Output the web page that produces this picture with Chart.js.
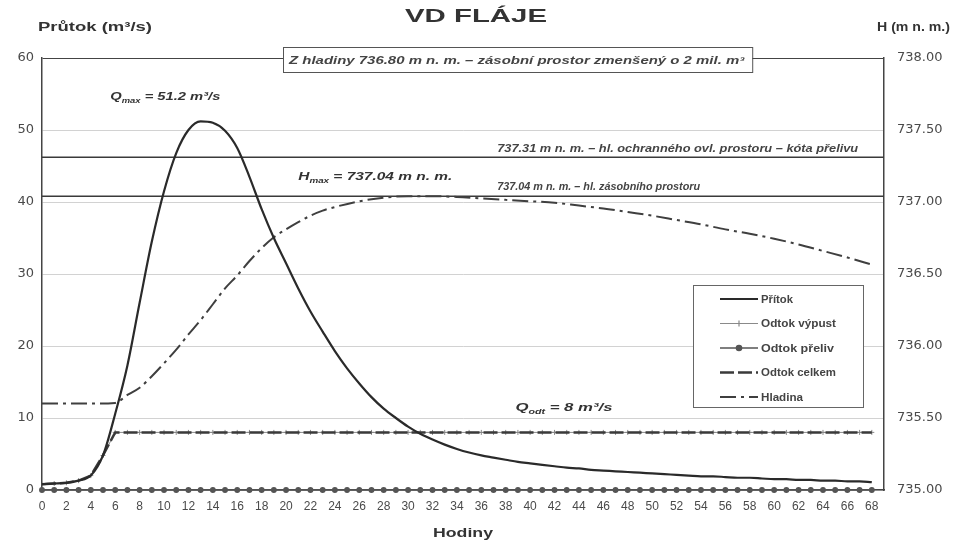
<!DOCTYPE html>
<html lang="cs">
<head>
    <meta charset="UTF-8">
    <meta name="viewport" content="width=device-width, initial-scale=1.0">
    <title>VD Fláje</title>
    <script src="https://cdn.jsdelivr.net/npm/chart.js@4"></script>
    <style>
        html, body { margin: 0; padding: 0; background: #fff; }
        #wrap { width: 953px; height: 544px; }
    </style>
</head>
<body>
    <div id="wrap"><canvas id="chart" width="953" height="544"></canvas></div>
    <script>
        // hodinove hodnoty prutoku (m3/s)
        const hodiny = [0, 1, 2, 3, 4, 5, 6, 7, 8, 9, 10, 11, 12, 13, 14, 15, 16, 17, 18, 19, 20,
            21, 22, 23, 24, 25, 26, 27, 28, 29, 30, 31, 32, 33, 34, 35, 36, 37, 38, 39, 40,
            41, 42, 43, 44, 45, 46, 47, 48, 49, 50, 51, 52, 53, 54, 55, 56, 57, 58, 59, 60,
            61, 62, 63, 64, 65, 66, 67, 68];
        const pritok = [0.8, 0.9, 1.0, 1.3, 2.0, 4.8, 10.6, 17.3, 26.0, 34.5, 41.5, 46.8, 50.0, 51.2, 51.0,
            49.9, 47.5, 43.5, 39.0, 35.0, 31.5, 28.0, 24.8, 22.0, 19.3, 16.9, 14.8, 12.9, 11.3, 10.0,
            8.8, 7.8, 7.0, 6.3, 5.7, 5.2, 4.8, 4.5, 4.2, 3.9, 3.7, 3.5, 3.3, 3.1, 3.0, 2.8, 2.7, 2.6,
            2.5, 2.4, 2.3, 2.2, 2.1, 2.0, 1.9, 1.9, 1.8, 1.7, 1.7, 1.6, 1.5, 1.5, 1.4, 1.4, 1.3, 1.3,
            1.2, 1.2, 1.1];
        const odtokVypust = [0.8, 0.9, 1.0, 1.3, 2.0, 4.8, 8, 8, 8, 8, 8, 8, 8, 8, 8, 8, 8, 8, 8, 8, 8,
            8, 8, 8, 8, 8, 8, 8, 8, 8, 8, 8, 8, 8, 8, 8, 8, 8, 8, 8, 8, 8, 8, 8, 8, 8, 8, 8, 8, 8, 8,
            8, 8, 8, 8, 8, 8, 8, 8, 8, 8, 8, 8, 8, 8, 8, 8, 8, 8];
        const odtokPreliv = [0, 0, 0, 0, 0, 0, 0, 0, 0, 0, 0, 0, 0, 0, 0, 0, 0, 0, 0, 0, 0, 0, 0, 0,
            0, 0, 0, 0, 0, 0, 0, 0, 0, 0, 0, 0, 0, 0, 0, 0, 0, 0, 0, 0, 0, 0, 0, 0, 0, 0, 0, 0, 0, 0,
            0, 0, 0, 0, 0, 0, 0, 0, 0, 0, 0, 0, 0, 0, 0];
        const odtokCelkem = [0.8, 0.9, 1.0, 1.3, 2.0, 4.8, 8, 8, 8, 8, 8, 8, 8, 8, 8, 8, 8, 8, 8, 8, 8,
            8, 8, 8, 8, 8, 8, 8, 8, 8, 8, 8, 8, 8, 8, 8, 8, 8, 8, 8, 8, 8, 8, 8, 8, 8, 8, 8, 8, 8, 8,
            8, 8, 8, 8, 8, 8, 8, 8, 8, 8, 8, 8, 8, 8, 8, 8, 8, 8];

        // hladina v nadrzi (m n. m.)
        const hladinaHodiny = [0, 2, 4, 6, 7, 8, 9, 10, 11, 12, 13, 14, 15, 16, 17, 18, 19, 20, 21, 22,
            23, 24, 26, 28, 30, 32, 34, 36, 38, 40, 42, 44, 46, 48, 50, 52, 54, 56, 58, 60, 62, 64, 66, 68];
        const hladina = [735.60, 735.60, 735.60, 735.605, 735.66, 735.71, 735.79, 735.88, 735.975, 736.08,
            736.18, 736.29, 736.40, 736.49, 736.59, 736.68, 736.755, 736.81, 736.86, 736.905, 736.94,
            736.965, 737.005, 737.03, 737.04, 737.04, 737.035, 737.025, 737.015, 737.005, 736.995,
            736.975, 736.955, 736.93, 736.905, 736.875, 736.845, 736.81, 736.78, 736.745, 736.705,
            736.66, 736.615, 736.565];

        const kotaPrelivu = 737.31;
        const hladinaZasobni = 737.04;

        const xTicks = [0, 2, 4, 6, 8, 10, 12, 14, 16, 18, 20, 22, 24, 26, 28, 30, 32, 34,
            36, 38, 40, 42, 44, 46, 48, 50, 52, 54, 56, 58, 60, 62, 64, 66, 68];
        const yTicks = [0, 10, 20, 30, 40, 50, 60];
        const y1Ticks = [735.0, 735.5, 736.0, 736.5, 737.0, 737.5, 738.0];

        const pts = (xs, ys) => ys.map((y, i) => ({ x: xs[i], y }));

        const FONT = '"Liberation Sans", Arial, sans-serif';
        const DARK = '#333';

        // text roztazeny na danou sirku (puvodni obrazek je siroky)
        function fitText(ctx, parts, x, y, width) {
            ctx.save();
            let total = 0;
            parts.forEach(p => { ctx.font = p.font; p.w = ctx.measureText(p.t).width; total += p.w; });
            ctx.translate(x, y);
            ctx.scale(width / total, 1);
            ctx.textAlign = 'left';
            ctx.textBaseline = 'alphabetic';
            let cx = 0;
            parts.forEach(p => {
                ctx.font = p.font;
                ctx.fillText(p.t, cx, p.dy || 0);
                cx += p.w;
            });
            ctx.restore();
        }

        const bi = (s) => 'italic bold ' + s + 'px ' + FONT;

        const annotations = {
            id: 'annotations',
            afterDraw(chart) {
                const ctx = chart.ctx;
                const x = chart.scales.x, y = chart.scales.y, y1 = chart.scales.y1;
                const area = chart.chartArea;
                ctx.fillStyle = DARK;

                // nadpisy
                fitText(ctx, [{ t: 'VD FLÁJE', font: 'bold 18px ' + FONT }], 405, 22, 142);
                fitText(ctx, [{ t: 'Průtok (m³/s)', font: 'bold 13px ' + FONT }], 38, 31, 114);
                fitText(ctx, [{ t: 'H (m n. m.)', font: 'bold 13px ' + FONT }], 877, 31, 73);
                fitText(ctx, [{ t: 'Hodiny', font: 'bold 13px ' + FONT }], 433, 537, 60);

                // ramecek nahore
                const bx0 = x.getPixelForValue(19.75), bx1 = x.getPixelForValue(58.2);
                ctx.save();
                ctx.fillStyle = '#fff';
                ctx.strokeStyle = '#555';
                ctx.lineWidth = 1;
                ctx.fillRect(bx0, area.top - 11, bx1 - bx0, 25);
                ctx.strokeRect(bx0 + 0.5, area.top - 10.5, bx1 - bx0, 25);
                ctx.restore();
                ctx.fillStyle = '#444';
                fitText(ctx, [{ t: 'Z hladiny 736.80 m n. m. – zásobní prostor zmenšený o 2 mil. m³', font: bi(10) }],
                    bx0 + 6, area.top + 6, bx1 - bx0 - 14);

                // popisky car
                fitText(ctx, [{ t: '737.31 m n. m. – hl. ochranného ovl. prostoru – kóta přelivu', font: bi(10) }],
                    x.getPixelForValue(37.3), y1.getPixelForValue(kotaPrelivu) - 5, 361);
                fitText(ctx, [{ t: '737.04 m n. m. – hl. zásobního prostoru', font: bi(10) }],
                    x.getPixelForValue(37.3), y1.getPixelForValue(hladinaZasobni) - 6, 203);

                ctx.fillStyle = DARK;
                fitText(ctx, [
                    { t: 'Q', font: bi(11) }, { t: 'max', font: bi(7), dy: 3 },
                    { t: ' = 51.2 m³/s', font: bi(11) }
                ], x.getPixelForValue(5.6), y.getPixelForValue(54.2), 110);
                fitText(ctx, [
                    { t: 'H', font: bi(11) }, { t: 'max', font: bi(7), dy: 3 },
                    { t: ' = 737.04 m n. m.', font: bi(11) }
                ], x.getPixelForValue(21.0), y1.getPixelForValue(737.15), 154);
                fitText(ctx, [
                    { t: 'Q', font: bi(11) }, { t: 'odt', font: bi(7), dy: 3 },
                    { t: ' = 8 m³/s', font: bi(11) }
                ], x.getPixelForValue(38.8), y.getPixelForValue(11.0), 97);

                // legenda
                const lx = area.right - 191, ly = area.top + 227;
                ctx.save();
                ctx.fillStyle = '#fff';
                ctx.fillRect(lx, ly, 170, 122);
                ctx.strokeStyle = '#666';
                ctx.lineWidth = 1;
                ctx.strokeRect(lx + 0.5, ly + 0.5, 170, 122);
                chart.data.datasets.forEach((ds) => {
                    if (!ds.legend) return;
                    const ry = ly + 14 + ds.legend * 24.5 - 24.5;
                    const sx0 = lx + 27, sx1 = lx + 65;
                    ctx.strokeStyle = ds.borderColor;
                    ctx.lineWidth = ds.borderWidth;
                    ctx.setLineDash(ds.borderDash || []);
                    ctx.beginPath();
                    ctx.moveTo(sx0, ry);
                    ctx.lineTo(sx1, ry);
                    ctx.stroke();
                    ctx.setLineDash([]);
                    if (ds.pointRadius) {
                        ctx.strokeStyle = ds.pointBorderColor || ds.borderColor;
                        ctx.fillStyle = ds.pointBackgroundColor || ds.borderColor;
                        ctx.lineWidth = 1.2;
                        Chart.helpers.drawPoint(ctx, {
                            pointStyle: ds.pointStyle, radius: ds.pointRadius + 0.5, borderWidth: 1.2
                        }, (sx0 + sx1) / 2, ry);
                    }
                    ctx.fillStyle = '#444';
                    fitText(ctx, [{ t: ds.label, font: 'bold 10px ' + FONT }], lx + 68, ry + 3.5,
                        ds.legendWidth);
                });
                ctx.restore();
            }
        };

        const chart = new Chart(document.getElementById('chart').getContext('2d'), {
            type: 'line',
            data: {
                datasets: [
                    {
                        label: 'hl. ochranného prostoru',
                        data: [{ x: 0, y: kotaPrelivu }, { x: 69, y: kotaPrelivu }],
                        yAxisID: 'y1', borderColor: '#3a3a3a', borderWidth: 1.5,
                        pointRadius: 0, order: 6
                    },
                    {
                        label: 'hl. zásobního prostoru',
                        data: [{ x: 0, y: hladinaZasobni }, { x: 69, y: hladinaZasobni }],
                        yAxisID: 'y1', borderColor: '#3a3a3a', borderWidth: 1.5,
                        pointRadius: 0, order: 6
                    },
                    {
                        label: 'Odtok přeliv', legend: 3, legendWidth: 73,
                        data: pts(hodiny, odtokPreliv), yAxisID: 'y',
                        borderColor: '#555', borderWidth: 1.5, pointStyle: 'circle',
                        pointRadius: 2.2, pointBackgroundColor: '#555', clip: false, order: 5
                    },
                    {
                        label: 'Odtok výpust', legend: 2, legendWidth: 75,
                        data: pts(hodiny, odtokVypust), yAxisID: 'y',
                        borderColor: '#8a8a8a', borderWidth: 1, pointStyle: 'cross',
                        pointRadius: 2.5, pointBorderColor: '#888', pointBorderWidth: 1, order: 4
                    },
                    {
                        label: 'Odtok celkem', legend: 4, legendWidth: 75,
                        data: pts(hodiny, odtokCelkem), yAxisID: 'y',
                        borderColor: '#3a3a3a', borderWidth: 2.5, borderDash: [14, 4],
                        pointRadius: 0, order: 3
                    },
                    {
                        label: 'Hladina', legend: 5, legendWidth: 42,
                        data: pts(hladinaHodiny, hladina), yAxisID: 'y1',
                        borderColor: '#3f3f3f', borderWidth: 2, borderDash: [16, 5, 3, 5],
                        pointRadius: 0, cubicInterpolationMode: 'monotone', order: 2
                    },
                    {
                        label: 'Přítok', legend: 1, legendWidth: 32,
                        data: pts(hodiny, pritok), yAxisID: 'y',
                        borderColor: '#2a2a2a', borderWidth: 2.2,
                        pointRadius: 0, cubicInterpolationMode: 'monotone', order: 1
                    }
                ]
            },
            options: {
                responsive: false,
                devicePixelRatio: 1,
                animation: false,
                events: [],
                layout: { padding: { top: 58, left: 0, right: 0, bottom: 0 } },
                plugins: {
                    legend: { display: false },
                    title: { display: false },
                    tooltip: { enabled: false }
                },
                scales: {
                    x: {
                        type: 'linear', min: 0, max: 69,
                        afterBuildTicks: (s) => { s.ticks = xTicks.map(v => ({ value: v })); },
                        afterFit: (s) => { s.height = 54; },
                        grid: { display: false, drawTicks: false },
                        border: { display: true, color: '#444', width: 1.5 },
                        ticks: {
                            autoSkip: false, maxRotation: 0, padding: 9, color: '#4a4a4a',
                            font: { family: FONT, size: 12 }
                        }
                    },
                    y: {
                        position: 'left', min: 0, max: 60,
                        afterBuildTicks: (s) => { s.ticks = yTicks.map(v => ({ value: v })); },
                        afterFit: (s) => { s.width = 42; },
                        grid: {
                            drawTicks: false, lineWidth: 1,
                            color: (c) => (c.tick && c.tick.value === 60) ? '#444' : '#d2d2d2'
                        },
                        border: { display: true, color: '#444', width: 1.5 },
                        ticks: {
                            padding: 8, color: '#4a4a4a',
                            font: { family: '"DejaVu Sans", sans-serif', size: 13 }
                        }
                    },
                    y1: {
                        position: 'right', min: 735, max: 738,
                        afterBuildTicks: (s) => { s.ticks = y1Ticks.map(v => ({ value: v })); },
                        afterFit: (s) => { s.width = 69; },
                        grid: { display: false, drawTicks: false },
                        border: { display: true, color: '#444', width: 1.5 },
                        ticks: {
                            padding: 13, color: '#4a4a4a',
                            font: { family: '"DejaVu Sans", sans-serif', size: 13 },
                            callback: (v) => Number(v).toFixed(2)
                        }
                    }
                }
            },
            plugins: [annotations]
        });
    </script>
</body>
</html>
